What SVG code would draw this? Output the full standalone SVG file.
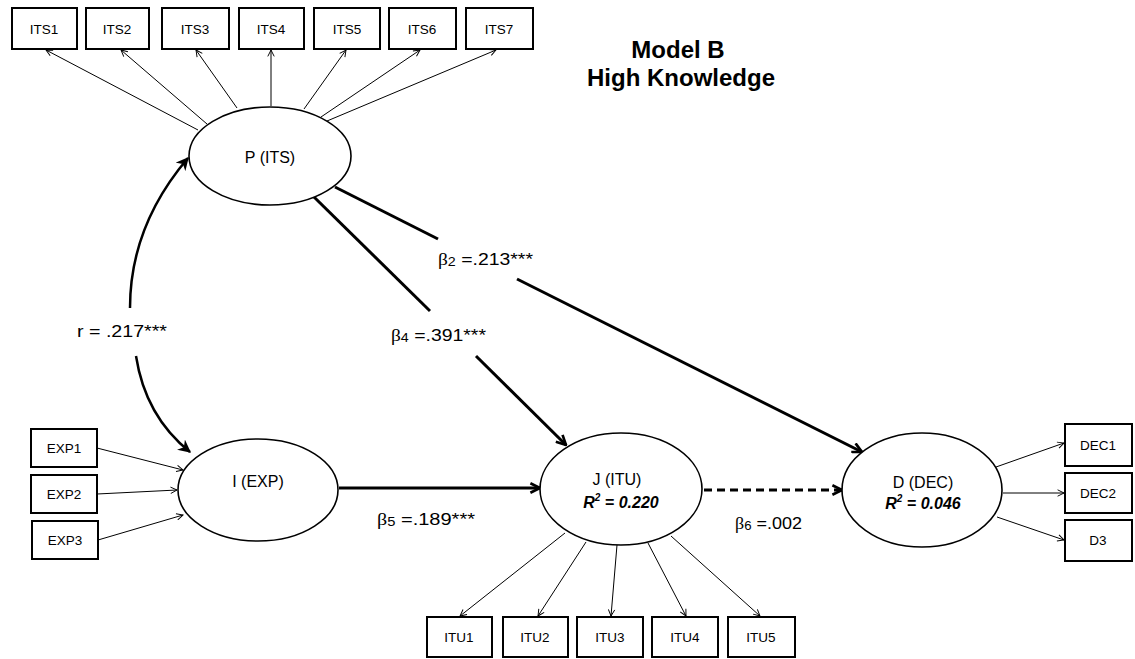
<svg xmlns="http://www.w3.org/2000/svg" width="1135" height="659" viewBox="0 0 1135 659">
  <style>
    .box { fill: #fff; stroke: #000; stroke-width: 2; }
    .lv { fill: #fff; stroke: #000; stroke-width: 1.6; }
    .ind { font-family: "Liberation Sans", Arial, sans-serif; font-size: 13.5px; text-anchor: middle; fill: #000; }
    .lvt { font-family: "Liberation Sans", Arial, sans-serif; font-size: 16px; text-anchor: middle; fill: #000; }
    .r2 { font-family: "Liberation Sans", Arial, sans-serif; font-size: 16px; font-weight: bold; font-style: italic; text-anchor: middle; fill: #000; }
    .title { font-family: "Liberation Sans", Arial, sans-serif; font-size: 24px; font-weight: bold; text-anchor: middle; fill: #000; }
    .coef { font-family: "Liberation Sans", Arial, sans-serif; font-size: 17px; fill: #000; }
    .greek { font-family: "Liberation Serif", "Times New Roman", serif; }
    .thin { stroke: #000; stroke-width: 1; fill: none; marker-end: url(#openSmall); }
    .path { stroke: #000; stroke-width: 3; fill: none; }
    .pathArrow { stroke: #000; stroke-width: 3; fill: none; marker-end: url(#openBig); }
    .dash { stroke: #000; stroke-width: 3; fill: none; stroke-dasharray: 8 5; marker-end: url(#openBig); }
    .corr { stroke: #000; stroke-width: 2.5; fill: none; marker-end: url(#solid); }
  </style>
  <defs>
    <marker id="openSmall" viewBox="0 0 10 10" refX="9" refY="5" markerWidth="8" markerHeight="8" markerUnits="userSpaceOnUse" orient="auto">
      <path d="M1,1 L9,5 L1,9" fill="none" stroke="#000" stroke-width="1.2"/>
    </marker>
    <marker id="openBig" viewBox="0 0 10 10" refX="9" refY="5" markerWidth="12" markerHeight="12" markerUnits="userSpaceOnUse" orient="auto">
      <path d="M1,1 L9,5 L1,9" fill="none" stroke="#000" stroke-width="2.2"/>
    </marker>
    <marker id="solid" viewBox="0 0 10 10" refX="9" refY="5" markerWidth="13" markerHeight="13" markerUnits="userSpaceOnUse" orient="auto">
      <path d="M0,0 L10,5 L0,10 L3,5 Z" fill="#000"/>
    </marker>
  </defs>

  <!-- title -->
  <text class="title" x="678" y="58">Model B</text>
  <text class="title" x="681" y="86">High Knowledge</text>

  <!-- connectors -->
  <g id="connectors">
    <!-- P (ITS) indicators -->
    <line class="thin" x1="198" y1="130" x2="46" y2="50"/>
    <line class="thin" x1="207" y1="124" x2="121" y2="50"/>
    <line class="thin" x1="237" y1="108" x2="196" y2="50"/>
    <line class="thin" x1="271" y1="106" x2="271" y2="50"/>
    <line class="thin" x1="304" y1="109" x2="346" y2="50"/>
    <line class="thin" x1="321" y1="117" x2="420" y2="50"/>
    <line class="thin" x1="327" y1="121" x2="496" y2="50"/>

    <!-- EXP indicators into I (EXP) -->
    <line class="thin" x1="97" y1="448" x2="183" y2="470"/>
    <line class="thin" x1="97" y1="494" x2="177" y2="490"/>
    <line class="thin" x1="98" y1="540" x2="183" y2="515"/>

    <!-- J (ITU) indicators -->
    <line class="thin" x1="565" y1="533" x2="460" y2="616"/>
    <line class="thin" x1="586" y1="542" x2="538" y2="616"/>
    <line class="thin" x1="617" y1="545" x2="611" y2="616"/>
    <line class="thin" x1="648" y1="543" x2="686" y2="616"/>
    <line class="thin" x1="671" y1="536" x2="760" y2="616"/>

    <!-- D (DEC) indicators -->
    <line class="thin" x1="996" y1="467" x2="1064" y2="443"/>
    <line class="thin" x1="1003" y1="493" x2="1064" y2="493"/>
    <line class="thin" x1="997" y1="517" x2="1064" y2="540"/>

    <!-- correlation r between P and I -->
    <path class="corr" d="M130,308 C130,255 148,205 188,158"/>
    <path class="corr" d="M136,356 C142,395 160,428 190,452"/>

    <!-- beta2: P -> D -->
    <line class="path" x1="335" y1="187" x2="438" y2="239"/>
    <line class="pathArrow" x1="517" y1="279" x2="862" y2="452"/>

    <!-- beta4: P -> J -->
    <line class="path" x1="314" y1="197" x2="430" y2="311"/>
    <line class="pathArrow" x1="476" y1="356" x2="566" y2="445"/>

    <!-- beta5: I -> J -->
    <line class="pathArrow" x1="339" y1="488" x2="540" y2="488"/>

    <!-- beta6: J -> D (non-significant) -->
    <line class="dash" x1="704" y1="490" x2="842" y2="490"/>
  </g>

  <!-- coefficient labels -->
  <text class="coef" x="77" y="337" textLength="90" lengthAdjust="spacingAndGlyphs">r = .217***</text>
  <text class="coef" x="438" y="265" textLength="95" lengthAdjust="spacingAndGlyphs"><tspan class="greek">β</tspan><tspan font-size="12.5" dy="1">2</tspan><tspan dy="-1"> =.213***</tspan></text>
  <text class="coef" x="391" y="341" textLength="95" lengthAdjust="spacingAndGlyphs"><tspan class="greek">β</tspan><tspan font-size="12.5" dy="1">4</tspan><tspan dy="-1"> =.391***</tspan></text>
  <text class="coef" x="377" y="525" textLength="98" lengthAdjust="spacingAndGlyphs"><tspan class="greek">β</tspan><tspan font-size="12.5" dy="1">5</tspan><tspan dy="-1"> =.189***</tspan></text>
  <text class="coef" x="735" y="529" textLength="67" lengthAdjust="spacingAndGlyphs"><tspan class="greek">β</tspan><tspan font-size="12.5" dy="1">6</tspan><tspan dy="-1"> =.002</tspan></text>

  <!-- latent variables -->
  <g id="P_ITS">
    <ellipse class="lv" cx="270" cy="156" rx="81" ry="49"/>
    <text class="lvt" x="270" y="163">P (ITS)</text>
  </g>
  <g id="I_EXP">
    <ellipse class="lv" cx="258" cy="490" rx="80" ry="51"/>
    <text class="lvt" x="258" y="487">I (EXP)</text>
  </g>
  <g id="J_ITU">
    <ellipse class="lv" cx="621" cy="489" rx="81" ry="56"/>
    <text class="lvt" x="617" y="485">J (ITU)</text>
    <text class="r2" x="621" y="508">R<tspan font-size="10" dy="-7">2</tspan><tspan dy="7"> = 0.220</tspan></text>
  </g>
  <g id="D_DEC">
    <ellipse class="lv" cx="922" cy="490" rx="80" ry="57"/>
    <text class="lvt" x="923" y="488">D (DEC)</text>
    <text class="r2" x="923" y="509">R<tspan font-size="10" dy="-7">2</tspan><tspan dy="7"> = 0.046</tspan></text>
  </g>

  <!-- ITS indicators -->
  <g id="ITS1"><rect class="box" x="12" y="8" width="65" height="41"/><text class="ind" x="44" y="34">ITS1</text></g>
  <g id="ITS2"><rect class="box" x="86" y="8" width="63" height="41"/><text class="ind" x="117" y="34">ITS2</text></g>
  <g id="ITS3"><rect class="box" x="162" y="8" width="67" height="41"/><text class="ind" x="195" y="34">ITS3</text></g>
  <g id="ITS4"><rect class="box" x="239" y="8" width="65" height="41"/><text class="ind" x="271" y="34">ITS4</text></g>
  <g id="ITS5"><rect class="box" x="314" y="8" width="66" height="41"/><text class="ind" x="347" y="34">ITS5</text></g>
  <g id="ITS6"><rect class="box" x="389" y="8" width="67" height="41"/><text class="ind" x="422" y="34">ITS6</text></g>
  <g id="ITS7"><rect class="box" x="466" y="8" width="67" height="41"/><text class="ind" x="499" y="34">ITS7</text></g>

  <!-- EXP indicators -->
  <g id="EXP1"><rect class="box" x="31" y="429" width="66" height="38"/><text class="ind" x="64" y="453">EXP1</text></g>
  <g id="EXP2"><rect class="box" x="31" y="475" width="66" height="38"/><text class="ind" x="64" y="499">EXP2</text></g>
  <g id="EXP3"><rect class="box" x="32" y="521" width="66" height="38"/><text class="ind" x="65" y="545">EXP3</text></g>

  <!-- ITU indicators -->
  <g id="ITU1"><rect class="box" x="427" y="617" width="65" height="40"/><text class="ind" x="459" y="642">ITU1</text></g>
  <g id="ITU2"><rect class="box" x="503" y="617" width="65" height="40"/><text class="ind" x="535" y="642">ITU2</text></g>
  <g id="ITU3"><rect class="box" x="577" y="617" width="66" height="40"/><text class="ind" x="610" y="642">ITU3</text></g>
  <g id="ITU4"><rect class="box" x="652" y="617" width="66" height="40"/><text class="ind" x="685" y="642">ITU4</text></g>
  <g id="ITU5"><rect class="box" x="728" y="617" width="67" height="40"/><text class="ind" x="761" y="642">ITU5</text></g>

  <!-- DEC indicators -->
  <g id="DEC1"><rect class="box" x="1065" y="424" width="67" height="42"/><text class="ind" x="1098" y="450">DEC1</text></g>
  <g id="DEC2"><rect class="box" x="1065" y="473" width="67" height="40"/><text class="ind" x="1098" y="498">DEC2</text></g>
  <g id="D3"><rect class="box" x="1065" y="520" width="67" height="41"/><text class="ind" x="1098" y="545">D3</text></g>
</svg>
